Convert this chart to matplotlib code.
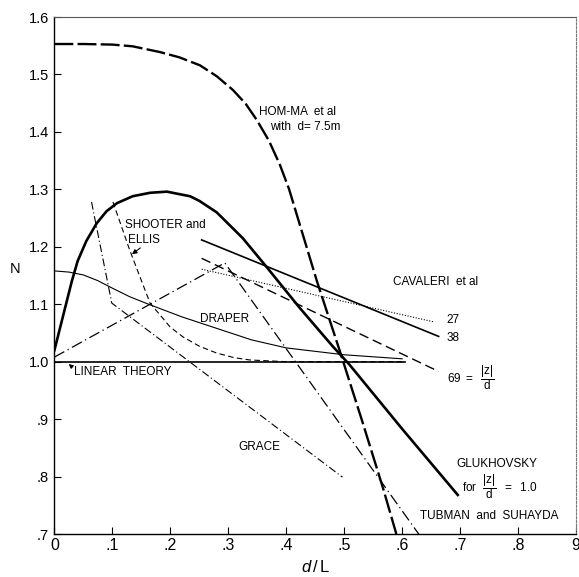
import matplotlib
matplotlib.use("Agg")
import matplotlib.pyplot as plt

plt.rcParams['font.family'] = ['Liberation Sans', 'DejaVu Sans']
plt.rcParams['mathtext.fontset'] = 'custom'
plt.rcParams['mathtext.rm'] = 'Liberation Sans'
plt.rcParams['mathtext.it'] = 'Liberation Sans:italic'

# ---- data ----
homma_x = [0, 0.05, 0.10, 0.135, 0.182, 0.215, 0.251, 0.28, 0.308, 0.33, 0.349, 0.37, 0.389, 0.405, 0.42, 0.453, 0.492, 0.53, 0.567, 0.59]
homma_y = [1.553, 1.553, 1.552, 1.549, 1.539, 1.530, 1.516, 1.497, 1.473, 1.449, 1.421, 1.385, 1.343, 1.300, 1.25, 1.14, 1.02, 0.90, 0.78, 0.70]

glukh_x = [0, 0.01, 0.02, 0.03, 0.04, 0.055, 0.073, 0.09, 0.108, 0.135, 0.165, 0.194, 0.234, 0.25, 0.28, 0.30, 0.325, 0.366, 0.423, 0.48, 0.509, 0.6, 0.696]
glukh_y = [1.02, 1.06, 1.10, 1.14, 1.175, 1.21, 1.241, 1.262, 1.276, 1.288, 1.294, 1.296, 1.288, 1.28, 1.26, 1.24, 1.215, 1.165, 1.094, 1.027, 0.995, 0.883, 0.768]

draper_x = [0, 0.025, 0.05, 0.075, 0.10, 0.13, 0.165, 0.22, 0.28, 0.34, 0.40, 0.50, 0.60]
draper_y = [1.158, 1.156, 1.151, 1.141, 1.128, 1.113, 1.099, 1.078, 1.058, 1.038, 1.024, 1.012, 1.005]

linear_x = [0, 0.605]
linear_y = [1.0, 1.0]

shooter_x = [0.101, 0.13, 0.165, 0.20, 0.222, 0.25, 0.28, 0.31, 0.337, 0.40, 0.50, 0.60]
shooter_y = [1.278, 1.194, 1.102, 1.060, 1.043, 1.027, 1.015, 1.007, 1.003, 1.0, 1.0, 1.0]

grace_x = [0.064, 0.099, 0.497]
grace_y = [1.278, 1.102, 0.799]

tubman_x = [0, 0.294, 0.63]
tubman_y = [1.008, 1.172, 0.698]

cav27_x = [0.254, 0.656]
cav27_y = [1.161, 1.069]
cav38_x = [0.254, 0.663]
cav38_y = [1.212, 1.044]
cav69_x = [0.254, 0.663]
cav69_y = [1.180, 0.983]

xticks = [0, 0.1, 0.2, 0.3, 0.4, 0.5, 0.6, 0.7, 0.8, 0.9]
xticklabels = ['0', '.1', '.2', '.3', '.4', '.5', '.6', '.7', '.8', '9']
yticks = [0.7, 0.8, 0.9, 1.0, 1.1, 1.2, 1.3, 1.4, 1.5, 1.6]
yticklabels = ['.7', '.8', '.9', '1.0', '1.1', '1.2', '1.3', '1.4', '1.5', '1.6']

# ---- figure ----
fig = plt.figure(figsize=(5.79, 5.77), dpi=100)
ax = fig.add_axes([0.094, 0.0745, 0.9008, 0.896])
ax.set_xlim(0, 0.9)
ax.set_ylim(0.7, 1.6)

k = 'black'
ax.plot(homma_x, homma_y, color=k, lw=1.7, dashes=(8, 1.8))
ax.plot(glukh_x, glukh_y, color=k, lw=1.9, solid_joinstyle='round')
ax.plot(draper_x, draper_y, color=k, lw=0.8)
ax.plot(linear_x, linear_y, color=k, lw=1.2)
ax.plot(shooter_x, shooter_y, color=k, lw=0.8, dashes=(5, 3))
ax.plot(grace_x, grace_y, color=k, lw=0.8, dashes=(7, 2.5, 1, 2.5))
ax.plot(tubman_x, tubman_y, color=k, lw=0.9, dashes=(9, 3, 1, 3))
ax.plot(cav27_x, cav27_y, color=k, lw=0.8, dashes=(1, 1.5))
ax.plot(cav38_x, cav38_y, color=k, lw=1.2)
ax.plot(cav69_x, cav69_y, color=k, lw=1.0, dashes=(7, 3.5))

fs = 8.5
ax.text(0.353, 1.435, 'HOM-MA  et al', fontsize=fs, va='center', ha='left')
ax.text(0.372, 1.408, 'with  d= 7.5m', fontsize=fs, va='center', ha='left')
ax.text(0.122, 1.238, 'SHOOTER and', fontsize=fs, va='center', ha='left')
ax.text(0.127, 1.212, 'ELLIS', fontsize=fs, va='center', ha='left')
ax.annotate('', xy=(0.130, 1.184), xytext=(0.152, 1.201),
            arrowprops=dict(arrowstyle='-|>', color=k, lw=0.8, mutation_scale=7))
ax.text(0.251, 1.074, 'DRAPER', fontsize=fs, va='center', ha='left')
ax.text(0.033, 0.982, 'LINEAR  THEORY', fontsize=fs, va='center', ha='left')
ax.annotate('', xy=(0.021, 0.999), xytext=(0.034, 0.988),
            arrowprops=dict(arrowstyle='-|>', color=k, lw=0.8, mutation_scale=6))
ax.text(0.318, 0.851, 'GRACE', fontsize=fs, va='center', ha='left')
ax.text(0.584, 1.139, 'CAVALERI  et al', fontsize=fs, va='center', ha='left')
ax.text(0.677, 1.072, '27', fontsize=fs, va='center', ha='left')
ax.text(0.677, 1.041, '38', fontsize=fs, va='center', ha='left')
ax.text(0.677, 0.972, r'69 $=$  $\mathregular{\dfrac{|z|}{d}}$', fontsize=fs, va='center', ha='left')
ax.text(0.694, 0.822, 'GLUKHOVSKY', fontsize=fs, va='center', ha='left')
ax.text(0.703, 0.783, r'for  $\mathregular{\dfrac{|z|}{d}}$  $=$  1.0', fontsize=fs, va='center', ha='left')
ax.text(0.630, 0.731, 'TUBMAN  and  SUHAYDA', fontsize=fs, va='center', ha='left')

ax.set_xticks(xticks)
ax.set_xticklabels(xticklabels, fontsize=11.5)
ax.set_yticks(yticks)
ax.set_yticklabels(yticklabels, fontsize=10.5)
ax.tick_params(axis='both', direction='in', length=5, width=0.8)
ax.tick_params(axis='x', pad=3)
ax.tick_params(axis='y', pad=4)

ax.set_xlabel(r'$d\,/\,$L', fontsize=12, labelpad=4)
ax.set_ylabel('N', fontsize=10.5, rotation=0, labelpad=0)
ax.yaxis.set_label_coords(-0.075, 0.5)

for s in ['left', 'bottom']:
    ax.spines[s].set_linewidth(1.0)
    ax.spines[s].set_color('black')
ax.spines['top'].set_linewidth(0.8)
ax.spines['top'].set_color('#555555')
ax.spines['right'].set_linewidth(0.8)
ax.spines['right'].set_color('#777777')
ax.spines['right'].set_linestyle((0, (2, 1.5)))

fig.savefig('out.png', dpi=100)
